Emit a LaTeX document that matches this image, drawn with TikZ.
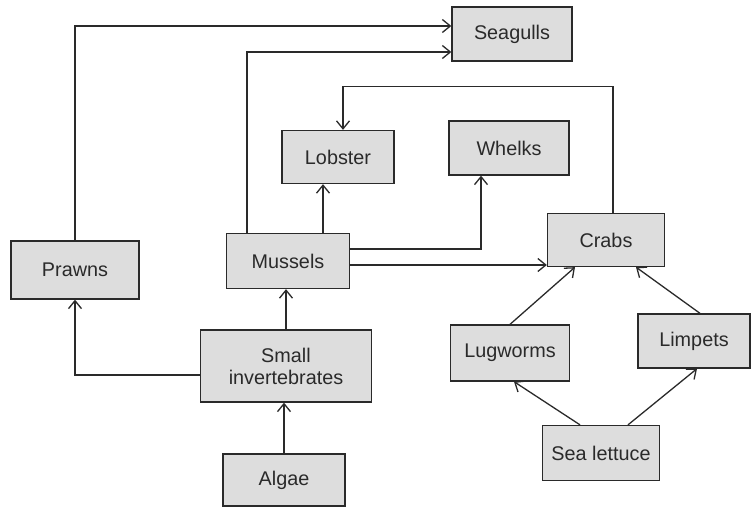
\documentclass[tikz,border=0pt]{standalone}
\usepackage{fontspec}
\setmainfont{Liberation Sans}
\usetikzlibrary{arrows.meta}
\definecolor{boxfill}{HTML}{DDDDDD}
\definecolor{ink}{HTML}{2A2A2A}
\tikzset{
  box/.style={draw=ink, fill=boxfill, line width=1.3pt, inner sep=0pt, align=center,
    text=ink, font=\fontsize{19.8}{22}\selectfont},
  arr/.style={draw=ink, line width=1.3pt, -{Straight Barb[length=8pt,width=13pt,line width=1.3pt]}}
}
\begin{document}
\begin{tikzpicture}[x=1pt,y=-1pt]
\useasboundingbox (0,0) rectangle (752,508);
\node[box, minimum width=120, minimum height=54] (seagulls) at (512,34) {Seagulls};
\node[box, minimum width=112, minimum height=53] (lobster) at (338,157) {Lobster};
\node[box, minimum width=120, minimum height=54] (whelks) at (509,148) {Whelks};
\node[box, minimum width=117, minimum height=53] (crabs) at (606,240) {Crabs};
\node[box, minimum width=128, minimum height=58] (prawns) at (75,270) {Prawns};
\node[box, minimum width=123, minimum height=55] (mussels) at (288,261) {Mussels};
\node[box, minimum width=171, minimum height=72] (small) at (286,366) {Small\\invertebrates};
\node[box, minimum width=122, minimum height=52] (algae) at (284,480) {Algae};
\node[box, minimum width=119, minimum height=56] (lugworms) at (510,353) {Lugworms};
\node[box, minimum width=112, minimum height=54] (limpets) at (694,341) {Limpets};
\node[box, minimum width=117, minimum height=55] (sealettuce) at (601,453) {Sea lettuce};

% Prawns -> Seagulls
\coordinate (sgA) at ([yshift=8]seagulls.west);
\draw[arr] (prawns.north) |- (sgA);
% Mussels -> Seagulls
\coordinate (sgB) at ([yshift=-18]seagulls.west);
\draw[arr] ([xshift=-41]mussels.north) |- (sgB);
% Crabs -> Lobster
\draw[arr] ([xshift=7]crabs.north) -- ++(0,-126) -| ([xshift=5]lobster.north);
% Mussels -> Lobster
\coordinate (mL) at ([xshift=35]mussels.north);
\draw[arr] (mL) -- (mL |- lobster.south);
% Mussels -> Whelks
\draw[arr] ([yshift=12]mussels.east) -| ([xshift=-28]whelks.south);
% Mussels -> Crabs
\coordinate (mC) at ([yshift=-4]mussels.east);
\draw[arr] (mC) -- (mC -| crabs.west);
% Small invertebrates -> Prawns
\draw[arr] ([yshift=-9]small.west) -| (prawns.south);
% Small invertebrates -> Mussels
\draw[arr] (small.north) -- (small.north |- mussels.south);
% Algae -> Small invertebrates
\draw[arr] (algae.north) -- (algae.north |- small.south);
% Lugworms -> Crabs
\draw[arr] (lugworms.north) -- ([xshift=-31]crabs.south);
% Limpets -> Crabs
\draw[arr] ([xshift=6]limpets.north) -- ([xshift=30]crabs.south);
% Sea lettuce -> Lugworms
\draw[arr] ([xshift=-21]sealettuce.north) -- ([xshift=4]lugworms.south);
% Sea lettuce -> Limpets
\draw[arr] ([xshift=27]sealettuce.north) -- ([xshift=3]limpets.south);
\end{tikzpicture}
\end{document}
